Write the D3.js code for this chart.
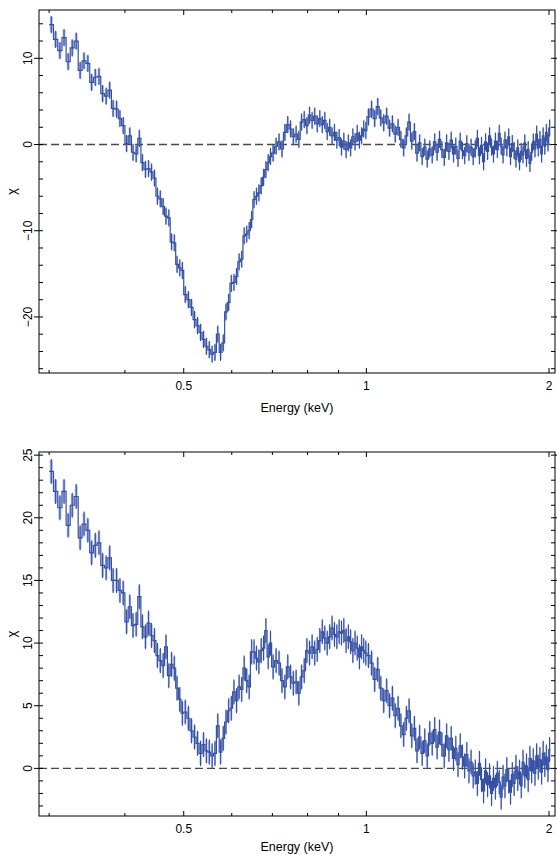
<!DOCTYPE html>
<html>
<head>
<meta charset="utf-8">
<script src="https://cdn.jsdelivr.net/npm/d3@7"></script>
<style>
  body { margin: 0; background: #fff; }
  text { font-family: "Liberation Sans", Arial, sans-serif; fill: #000; }
</style>
</head>
<body>
<div class="canvas"></div>
<script>
/* bin low edges (keV), last bin ends at eEnd */
const eLo = [
  0.300, 0.305, 0.310, 0.315, 0.320, 0.325, 0.330, 0.335, 0.340, 0.345,
  0.350, 0.355, 0.360, 0.365, 0.370, 0.375, 0.380, 0.385, 0.390, 0.395,
  0.400, 0.405, 0.410, 0.415, 0.420, 0.425, 0.430, 0.435, 0.440, 0.445,
  0.450, 0.455, 0.460, 0.465, 0.470, 0.475, 0.480, 0.485, 0.490, 0.495,
  0.500, 0.506, 0.512, 0.518, 0.524, 0.530, 0.536, 0.542, 0.548, 0.554,
  0.560, 0.566, 0.572, 0.578, 0.584, 0.590, 0.596, 0.602, 0.608, 0.614,
  0.620, 0.626, 0.632, 0.638, 0.644, 0.650, 0.656, 0.662, 0.668, 0.674,
  0.680, 0.686, 0.692,
  0.698, 0.706, 0.714, 0.722, 0.730, 0.738, 0.746, 0.754, 0.762, 0.770,
  0.778, 0.786, 0.794, 0.802, 0.810, 0.818, 0.826, 0.834, 0.842, 0.850,
  0.858, 0.866, 0.874, 0.882, 0.890, 0.898, 0.906, 0.914, 0.922, 0.930,
  0.938, 0.946, 0.954, 0.962, 0.970, 0.978, 0.986, 0.994,
  1.002, 1.014, 1.026, 1.038, 1.050, 1.062, 1.074, 1.086, 1.098, 1.110,
  1.122, 1.134, 1.146, 1.158, 1.170, 1.182, 1.194, 1.206, 1.218, 1.230,
  1.242, 1.254, 1.266, 1.278, 1.290, 1.302, 1.314, 1.326, 1.338, 1.350,
  1.362, 1.374, 1.386, 1.398, 1.410, 1.422, 1.434, 1.446, 1.458, 1.470,
  1.482, 1.494,
  1.506, 1.518, 1.530, 1.542, 1.554, 1.566, 1.578, 1.590, 1.602, 1.614,
  1.626, 1.638, 1.650, 1.662, 1.674, 1.686, 1.698, 1.710, 1.722, 1.734,
  1.746, 1.758, 1.770, 1.782, 1.794, 1.806, 1.818, 1.830, 1.842, 1.854,
  1.866, 1.878, 1.890, 1.902, 1.914, 1.926, 1.938, 1.950, 1.962, 1.974,
  1.986, 1.998
];
const eEnd = 2.010;

/* residuals, top panel */
const chiTop = [
  13.9, 12.2, 10.9, 12.4, 9.6, 11.2, 12.0, 8.6, 9.7, 9.4,
  7.2, 7.8, 7.9, 5.9, 5.6, 6.3, 4.2, 4.1, 3.0, 2.2,
  0.1, 1.0, -0.9, -1.1, 0.7, -2.1, -2.9, -2.8, -3.2, -3.9,
  -6.0, -6.3, -7.2, -8.3, -8.5, -11.3, -11.4, -13.9, -14.3, -14.6,
  -17.4, -18.0, -18.9, -20.3, -21.0, -21.8, -22.6, -23.4, -23.8, -24.3,
  -24.1, -22.0, -24.1, -23.0, -19.4, -18.3, -16.1, -16.0, -15.3, -13.6,
  -13.3, -10.6, -10.4, -10.0, -8.7, -6.4, -6.0, -5.6, -4.8, -3.8,
  -2.9, -2.1, -1.4,
  -1.0, -0.2, 0.3, -0.5, 1.4, 2.3, 1.8, 0.9, 1.2, 0.6,
  2.6, 2.9, 2.2, 3.4, 2.8, 3.3, 2.4, 3.0, 2.3, 2.8,
  1.5, 2.0, 1.0, 1.4, 0.5, 0.8, -0.3, 0.4, -0.6, 0.2,
  -0.4, 0.9, 0.3, 1.3, 0.5, 1.0, 1.8, 1.6,
  3.2, 4.1, 3.0, 4.4, 3.1, 2.5, 3.3, 1.9, 2.4, 1.2,
  2.0, 0.6, -0.4, 1.0, 2.6, 0.4, 1.5, -1.0, 0.2, -1.4,
  -0.3, -1.7, -0.5, -1.2, 0.3, -0.9, 0.6, -0.6, -1.5, 0.2,
  -0.8, 0.5, -1.1, -0.2, -1.6, 0.4, -0.7, -1.3, 0.1, -0.9,
  -0.3, -1.4,
  -0.5, 0.7, -1.3, -0.1, -2.0, 0.3, -0.8, 1.0, -0.3, -1.1,
  0.4, -0.6, 1.3, -0.2, -1.2, 0.5, -0.4, 0.9, -1.4, 0.1,
  -0.7, -1.7, -0.4, -2.0, -0.8, -1.2, 0.2, -1.6, -0.6, -2.2,
  -0.9, 0.3, -0.5, 1.2, -0.4, 0.6, -1.1, 1.0, -0.2, 1.4,
  0.2, 1.9
];

/* residuals, bottom panel */
const chiBottom = [
  23.7, 22.1, 20.8, 22.1, 19.4, 21.0, 21.7, 18.4, 19.5, 19.0,
  17.2, 17.8, 18.0, 16.2, 16.0, 16.8, 15.0, 15.0, 14.2, 14.0,
  11.7, 12.9, 11.4, 11.5, 13.7, 11.3, 10.5, 11.6, 10.6, 10.2,
  9.0, 8.6, 8.2, 9.7, 7.4, 8.3, 8.0, 6.4, 5.5, 4.4,
  4.5, 4.0, 3.0, 2.5, 2.0, 1.2, 1.9, 1.4, 1.3, 1.0,
  1.2, 3.4, 1.3, 2.4, 3.7, 4.6, 4.8, 6.1, 5.4, 6.5,
  6.3, 8.0, 7.0, 6.5, 9.3, 9.3, 8.8, 8.5, 9.4, 9.6,
  11.0, 8.9, 10.0,
  8.1, 8.6, 8.4, 7.0, 6.5, 8.1, 7.3, 6.8, 6.9, 6.0,
  7.3, 7.8, 9.4, 9.2, 9.7, 9.2, 9.5, 10.2, 10.9, 10.4,
  10.0, 10.5, 11.2, 10.7, 10.5, 10.9, 10.8, 11.0, 10.2, 10.5,
  10.1, 9.4, 10.0, 9.6, 8.9, 9.7, 9.4, 9.2,
  9.0, 8.4, 7.1, 7.9, 6.4, 5.4, 6.2, 5.0, 5.6, 4.2,
  4.8, 3.4, 2.7, 4.0, 4.6, 2.6, 3.2, 1.4, 2.5, 1.2,
  2.2, 1.0, 2.8, 2.0, 3.1, 1.7, 2.9, 1.9, 1.0, 2.6,
  1.5, 2.4, 0.8, 1.6, 0.3, 1.8, 0.9, 0.2, 1.1, -0.2,
  0.5, -0.6,
  -0.3, -1.2, 0.4, -0.9, -1.8, -0.2, -1.3, -0.6, -2.0, -0.8,
  -1.5, -0.4, -1.1, -2.3, -0.7, -1.4, -0.1, -1.0, -1.9, -0.5,
  -1.2, 0.1, -0.8, -0.3, -1.4, 0.5, -0.6, 0.2, -0.9, 0.8,
  -0.2, 0.6, -0.4, 1.0, 0.1, 0.7, -0.3, 1.2, 0.3, 0.9,
  -0.1, 1.5
];

const xMajor = [0.5, 1, 2];
const xMinor = [0.3, 0.4, 0.6, 0.7, 0.8, 0.9];
const yTicksTop = [-20, -10, 0, 10];
const yTicksBottom = [0, 5, 10, 15, 20, 25];

var width = 557;
var height = 855;
var left = 39;
var right = 555;
var dark = "#3550a4";
var light = "#7b8fcb";

var panels = [
  { chi: chiTop, top: 10, bottom: 373, domain: [-26.5, 15.6], ticks: yTicksTop, step: 2 },
  { chi: chiBottom, top: 452, bottom: 816, domain: [-3.8, 25.25], ticks: yTicksBottom, step: 1 },
];

var svg = d3
  .select(".canvas")
  .append("svg")
  .attr("width", width)
  .attr("height", height);

var xScale = d3.scaleLog().domain([0.2887, 2.046]).range([left, right]);
var edges = eLo.concat([eEnd]);

panels.forEach(function (p) {
  var yScale = d3.scaleLinear().domain(p.domain).range([p.bottom, p.top]);
  var g = svg.append("g");

  var data = eLo.map((e, i) => ({ lo: e, hi: edges[i + 1], v: p.chi[i] }));

  /* zero line */
  g.append("line")
    .attr("x1", left)
    .attr("x2", right)
    .attr("y1", yScale(0))
    .attr("y2", yScale(0))
    .attr("stroke", "#4a4a4a")
    .attr("stroke-width", 1.3)
    .attr("stroke-dasharray", "8,4");

  /* light error bands */
  g.selectAll(".band")
    .data(data)
    .enter()
    .append("rect")
    .attr("class", "band")
    .attr("x", (d) => xScale(d.lo) + (xScale(d.hi) - xScale(d.lo)) * 0.15)
    .attr("width", (d) => Math.max(1.5, (xScale(d.hi) - xScale(d.lo)) * 0.7))
    .attr("y", (d) => yScale(d.v + 0.9))
    .attr("height", (d) => yScale(d.v - 0.9) - yScale(d.v + 0.9))
    .attr("fill", light)
    .attr("opacity", 0.65);

  /* error bars */
  g.selectAll(".err")
    .data(data)
    .enter()
    .append("line")
    .attr("class", "err")
    .attr("x1", (d) => xScale(Math.sqrt(d.lo * d.hi)))
    .attr("x2", (d) => xScale(Math.sqrt(d.lo * d.hi)))
    .attr("y1", (d) => yScale(d.v - 1))
    .attr("y2", (d) => yScale(d.v + 1))
    .attr("stroke", dark)
    .attr("stroke-width", 1.1);

  /* step line */
  var pts = data.map((d) => [d.lo, d.v]);
  pts.push([eEnd, data[data.length - 1].v]);
  var line = d3
    .line()
    .x((d) => xScale(d[0]))
    .y((d) => yScale(d[1]))
    .curve(d3.curveStepAfter);
  g.append("path")
    .attr("d", line(pts))
    .attr("fill", "none")
    .attr("stroke", dark)
    .attr("stroke-width", 1.2);

  /* frame */
  g.append("rect")
    .attr("x", left)
    .attr("y", p.top)
    .attr("width", right - left)
    .attr("height", p.bottom - p.top)
    .attr("fill", "none")
    .attr("stroke", "#000")
    .attr("stroke-width", 1);

  /* x ticks, bottom and top */
  var xt = xMajor.map((v) => ({ v: v, len: 5 })).concat(xMinor.map((v) => ({ v: v, len: 3 })));
  xt.forEach(function (t) {
    var px = xScale(t.v);
    g.append("line").attr("x1", px).attr("x2", px)
      .attr("y1", p.bottom).attr("y2", p.bottom - t.len)
      .attr("stroke", "#000");
    g.append("line").attr("x1", px).attr("x2", px)
      .attr("y1", p.top).attr("y2", p.top + t.len)
      .attr("stroke", "#000");
  });
  g.selectAll(".xlab")
    .data(xMajor)
    .enter()
    .append("text")
    .attr("x", (d) => xScale(d))
    .attr("y", p.bottom + 17)
    .attr("text-anchor", "middle")
    .attr("font-size", "12px")
    .text((d) => d);

  /* y ticks */
  var minor = d3.range(Math.ceil(p.domain[0] / p.step) * p.step, p.domain[1], p.step);
  minor.forEach(function (v) {
    var py = yScale(v);
    var major = p.ticks.indexOf(v) >= 0;
    g.append("line").attr("x1", major ? left - 5 : left).attr("x2", left + 4)
      .attr("y1", py).attr("y2", py).attr("stroke", "#000");
    g.append("line").attr("x1", right - 4).attr("x2", major ? right + 3 : right)
      .attr("y1", py).attr("y2", py).attr("stroke", "#000");
  });
  g.selectAll(".ylab")
    .data(p.ticks)
    .enter()
    .append("text")
    .attr("transform", (d) => `translate(32, ${yScale(d)}) rotate(-90)`)
    .attr("text-anchor", "middle")
    .attr("font-size", "12px")
    .text((d) => (d < 0 ? "\u2212" + Math.abs(d) : d));

  /* axis titles */
  g.append("text")
    .attr("transform", `translate(16, ${(p.top + p.bottom) / 2}) rotate(-90)`)
    .attr("text-anchor", "middle")
    .attr("font-size", "13px")
    .text("\u03c7");
  g.append("text")
    .attr("x", (left + right) / 2)
    .attr("y", Math.min(p.bottom + 39, height - 4))
    .attr("text-anchor", "middle")
    .attr("font-size", "12.5px")
    .text("Energy (keV)");
});
</script>
</body>
</html>
